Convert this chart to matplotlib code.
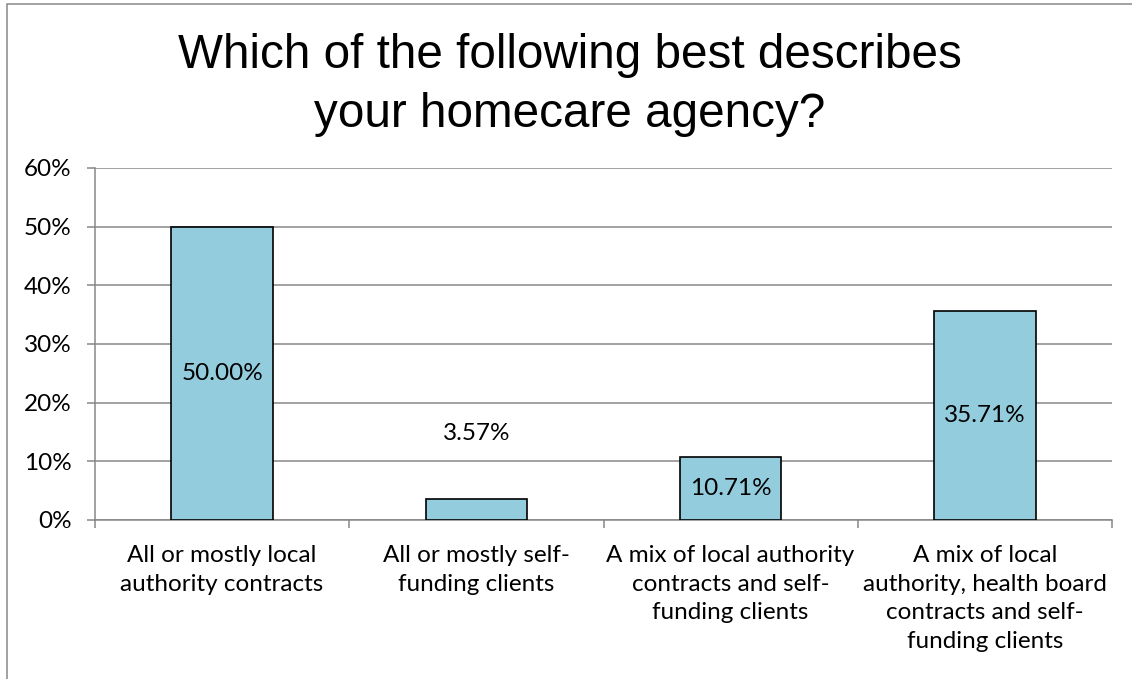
import matplotlib
matplotlib.use("Agg")
import matplotlib.pyplot as plt
from matplotlib.patches import Rectangle
from matplotlib.ticker import FuncFormatter, FixedLocator

categories = [
    "All or mostly local\nauthority contracts",
    "All or mostly self-\nfunding clients",
    "A mix of local authority\ncontracts and self-\nfunding clients",
    "A mix of local\nauthority, health board\ncontracts and self-\nfunding clients",
]
values = [50.00, 3.57, 10.71, 35.71]
value_labels = ["50.00%", "3.57%", "10.71%", "35.71%"]
label_y = [25.0, 14.8, 5.35, 17.85]
title = "Which of the following best describes\nyour homecare agency?"
yticks = [0, 10, 20, 30, 40, 50, 60]

BODY = ["Lato", "DejaVu Sans"]
W, H = 1132, 679
fig = plt.figure(figsize=(W / 100, H / 100), dpi=100)
fig.patch.set_facecolor("white")

# chart area border (extends beyond right/bottom edges)
fig.patches.append(Rectangle((7 / W, -0.1), 1.2, 1 - 4.5 / H + 0.1,
                             transform=fig.transFigure, fill=False,
                             edgecolor="#888888", linewidth=1.1))

ax = fig.add_axes([95 / W, 1 - 520 / H, (1112 - 95) / W, (520 - 168) / H])
grid_c = "#878787"

x = list(range(len(values)))
ax.bar(x, values, width=0.4, color="#93CDDD", edgecolor="black", linewidth=1.2, zorder=3)

for xi, lab, ly in zip(x, value_labels, label_y):
    ax.text(xi, ly, lab, ha="center", va="center", fontsize=17.5,
            family=BODY, color="black", zorder=4)

ax.set_xlim(-0.5, len(values) - 0.5)
ax.set_ylim(0, 60)
ax.set_yticks(yticks)
ax.yaxis.set_major_formatter(FuncFormatter(lambda v, p: f"{v:.0f}%"))
ax.grid(axis="y", color=grid_c, linewidth=1.1, zorder=0)
ax.set_axisbelow(True)

ax.xaxis.set_major_locator(FixedLocator([i - 0.5 for i in range(len(values) + 1)]))
ax.xaxis.set_major_formatter(FuncFormatter(lambda v, p: ""))
ax.xaxis.set_minor_locator(FixedLocator(x))
ax.set_xticklabels(categories, minor=True)
ax.tick_params(axis="x", which="major", length=6, width=1.1, color=grid_c)
ax.tick_params(axis="x", which="minor", length=0, pad=18, labelsize=17.5)
ax.tick_params(axis="y", length=6, width=1.1, color=grid_c, pad=11, labelsize=17.5)
for lab in ax.get_xticklabels(minor=True) + ax.get_yticklabels():
    lab.set_family(BODY)
for lab in ax.get_xticklabels(minor=True):
    lab.set_linespacing(1.45)
    lab.set_va("top")

for s in ["top", "right"]:
    ax.spines[s].set_visible(False)
for s in ["left", "bottom"]:
    ax.spines[s].set_color(grid_c)
    ax.spines[s].set_linewidth(1.1)

fig.text(570 / W, 1 - 33 / H, title, ha="center", va="top", fontsize=34.3,
         family=["Liberation Sans", "DejaVu Sans"], linespacing=1.4)

fig.savefig("out.png", dpi=100, facecolor="white")
